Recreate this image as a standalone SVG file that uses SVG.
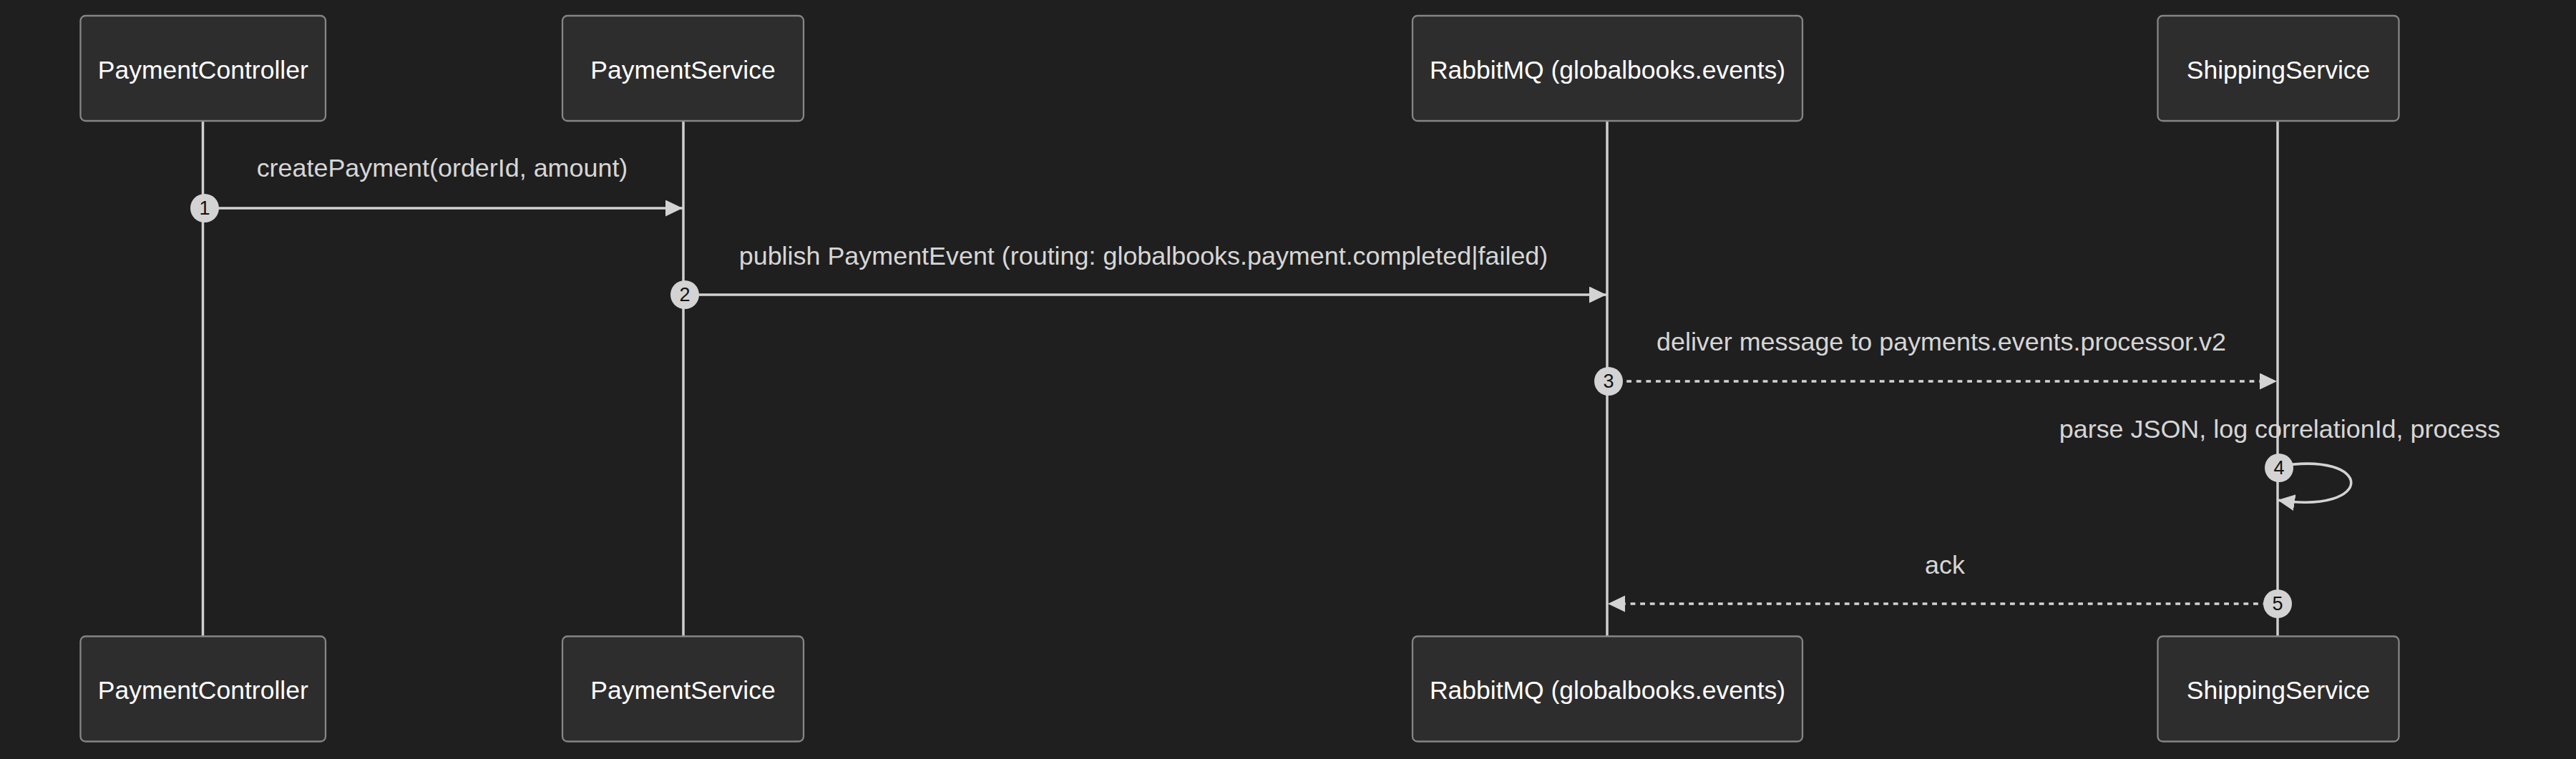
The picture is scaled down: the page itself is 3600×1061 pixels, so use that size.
<svg xmlns="http://www.w3.org/2000/svg" width="3600" height="1061" viewBox="0 0 3600 1061">
<defs>
<style>
.bg{fill:#1f1f1f}
.actor rect{fill:#2d2d2d;stroke:#858585;stroke-width:2.3}
.actor text{fill:#ffffff;font-family:"Liberation Sans",Arial,sans-serif;font-size:35.5px;text-anchor:middle}
.life{stroke:#cfcfcf;stroke-width:3.5;fill:none}
.msg{stroke:#d3d3d3;stroke-width:3.6;fill:none}
.dot{stroke-dasharray:6.8 6.8}
.lbl{fill:#d6d6d6;font-family:"Liberation Sans",Arial,sans-serif;font-size:35.9px;text-anchor:middle}
.num circle{fill:#d3d3d3}
.num text{fill:#111;font-family:"Liberation Sans",Arial,sans-serif;font-size:27px;text-anchor:middle;dominant-baseline:central}
</style>
<marker id="ah" markerUnits="userSpaceOnUse" markerWidth="26" markerHeight="24" refX="24" refY="11.5" orient="auto">
<path d="M0,0 L24,11.5 L0,23 z" fill="#d3d3d3"/>
</marker>
</defs>
<rect class="bg" x="0" y="0" width="3600" height="1061"/>
<g id="lifelines">
<line class="life" x1="283.5" y1="169" x2="283.5" y2="889"/>
<line class="life" x1="955" y1="169" x2="955" y2="889"/>
<line class="life" x1="2246" y1="169" x2="2246" y2="889"/>
<line class="life" x1="3183" y1="169" x2="3183" y2="889"/>
</g>
<g id="PaymentController" class="actor">
<rect x="112.5" y="22" width="342.5" height="147" rx="7"/>
<text x="283.75" y="110">PaymentController</text>
<rect x="112.5" y="889.5" width="342.5" height="147" rx="7"/>
<text x="283.75" y="977">PaymentController</text>
</g>
<g id="PaymentService" class="actor">
<rect x="786" y="22" width="337" height="147" rx="7"/>
<text x="954.5" y="110">PaymentService</text>
<rect x="786" y="889.5" width="337" height="147" rx="7"/>
<text x="954.5" y="977">PaymentService</text>
</g>
<g id="RabbitMQ" class="actor">
<rect x="1974" y="22" width="545" height="147" rx="7"/>
<text x="2246.5" y="110">RabbitMQ (globalbooks.events)</text>
<rect x="1974" y="889.5" width="545" height="147" rx="7"/>
<text x="2246.5" y="977">RabbitMQ (globalbooks.events)</text>
</g>
<g id="ShippingService" class="actor">
<rect x="3015.5" y="22" width="337" height="147" rx="7"/>
<text x="3184" y="110">ShippingService</text>
<rect x="3015.5" y="889.5" width="337" height="147" rx="7"/>
<text x="3184" y="977">ShippingService</text>
</g>
<g id="connectors">
<line class="msg" x1="284" y1="291" x2="954" y2="291" marker-end="url(#ah)"/>
<text class="lbl" x="618" y="247">createPayment(orderId, amount)</text>
<line class="msg" x1="955" y1="412" x2="2245" y2="412" marker-end="url(#ah)"/>
<text class="lbl" x="1598" y="370">publish PaymentEvent (routing: globalbooks.payment.completed|failed)</text>
<line class="msg dot" x1="2246" y1="533" x2="3182" y2="533" marker-end="url(#ah)"/>
<text class="lbl" x="2713" y="490">deliver message to payments.events.processor.v2</text>
<path class="msg" d="M3183,652 C3320,629 3320,720 3183,699" marker-end="url(#ah)"/>
<text class="lbl" x="3186" y="612">parse JSON, log correlationId, process</text>
<line class="msg dot" x1="3183" y1="844" x2="2247" y2="844" marker-end="url(#ah)"/>
<text class="lbl" x="2718" y="802">ack</text>
</g>
<g id="sequence-numbers" class="num">
<circle cx="286" cy="291" r="20"/><text x="286" y="291">1</text>
<circle cx="957" cy="412" r="20"/><text x="957" y="412">2</text>
<circle cx="2248" cy="533" r="20"/><text x="2248" y="533">3</text>
<circle cx="3185" cy="654" r="20"/><text x="3185" y="654">4</text>
<circle cx="3183" cy="844" r="20"/><text x="3183" y="844">5</text>
</g>
</svg>
